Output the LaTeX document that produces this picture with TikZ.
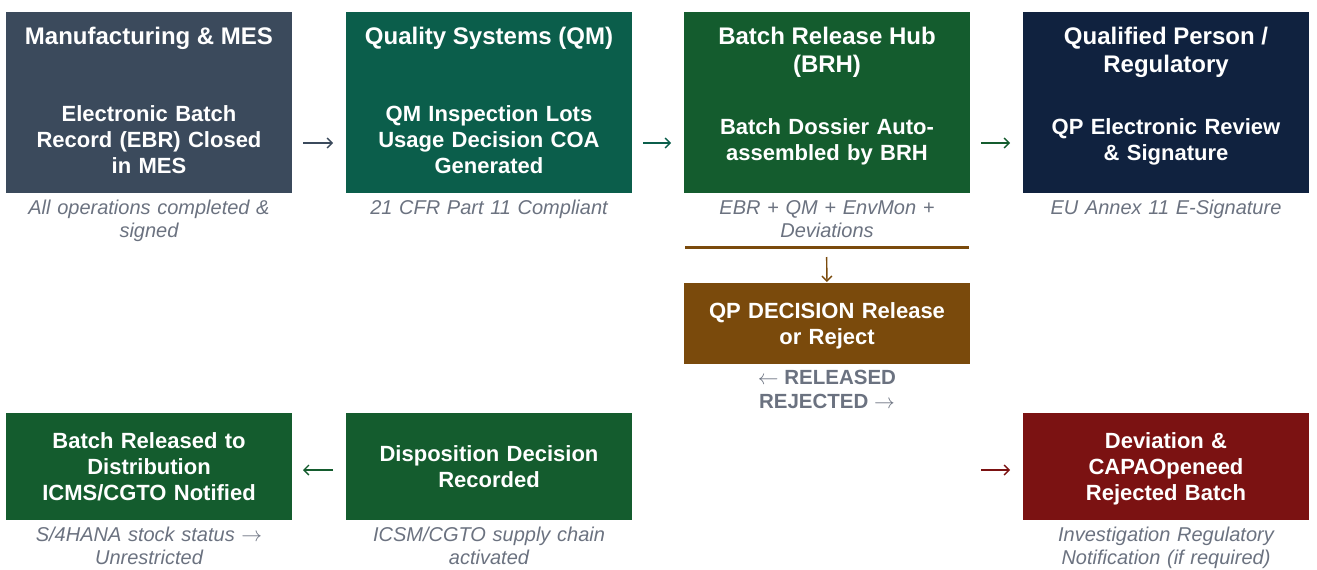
\documentclass[tikz,border=0pt]{standalone}
\usepackage{fontspec}
\setmainfont{Liberation Sans}
\usetikzlibrary{arrows.meta}

\definecolor{messlate}{HTML}{3B4A5C}
\definecolor{qmteal}{HTML}{0B5E4B}
\definecolor{hubgreen}{HTML}{145C2E}
\definecolor{qpnavy}{HTML}{10223F}
\definecolor{qpbrown}{HTML}{7A4A0C}
\definecolor{rejred}{HTML}{7B1212}
\definecolor{notegrey}{HTML}{6B7280}

\newcommand\hdrfont{\fontsize{24}{28}\selectfont\bfseries}
\newcommand\boxfont{\fontsize{22}{26}\selectfont\bfseries}
\newcommand\notefont{\fontsize{20}{23}\selectfont\itshape}
\newcommand\outfont{\fontsize{20.5}{24}\selectfont\bfseries}
% line box of a step: 26pt tall, baseline low in the box
\newcommand\linestrut{\rule[-5.4pt]{0pt}{26pt}}
% header text sits at the top of its band
\newcommand\hdrtext[1]{\parbox[t][74pt][t]{270pt}{\centering\vspace*{13pt}\strut#1}}

\begin{document}
\begin{tikzpicture}[x=1pt,y=-1pt,
  hdr/.style={rectangle, inner sep=0pt, outer sep=0pt, anchor=north west,
    minimum width=286pt, minimum height=74pt, text=white, font=\hdrfont},
  stepbox/.style={rectangle, inner sep=0pt, outer sep=0pt, anchor=north west,
    minimum width=286pt, minimum height=107pt, text width=270pt,
    align=center, text=white, font=\boxfont,
    execute at begin node=\linestrut, execute at end node=\linestrut},
  note/.style={anchor=north, inner sep=0pt, text width=284pt, align=center,
    text=notegrey, font=\notefont},
  flow/.style={line width=1.4pt, -{Straight Barb[length=5pt,width=10pt]},
    shorten <=11pt, shorten >=13pt},
]
\useasboundingbox (0,0) rectangle (1317,570);

% column headers
\node[hdr, fill=messlate] (h1) at (6,12)    {\hdrtext{Manufacturing \& MES}};
\node[hdr, fill=qmteal]   (h2) at (346,12)  {\hdrtext{Quality Systems (QM)}};
\node[hdr, fill=hubgreen] (h3) at (684,12)  {\hdrtext{Batch Release Hub\\(BRH)}};
\node[hdr, fill=qpnavy]   (h4) at (1023,12) {\hdrtext{Qualified Person /\\Regulatory}};

% top row steps
\node[stepbox, fill=messlate] (ebr) at (6,86)    {Electronic Batch\\Record (EBR) Closed\\in MES};
\node[stepbox, fill=qmteal]   (qm)  at (346,86)  {QM Inspection Lots\\Usage Decision COA\\Generated};
\node[stepbox, fill=hubgreen] (brh) at (684,86)  {Batch Dossier Auto-\\assembled by BRH};
\node[stepbox, fill=qpnavy]   (sig) at (1023,86) {QP Electronic Review\\\& Signature};

% notes under the top row
\node[note] (ebrn) at ([yshift=-7pt]ebr.south) {All operations completed \&\\signed};
\node[note] (qmn)  at ([yshift=-7pt]qm.south)  {21 CFR Part 11 Compliant};
\node[note] (brhn) at ([yshift=-7pt]brh.south) {EBR + QM + EnvMon +\\Deviations};
\node[note] (sign) at ([yshift=-7pt]sig.south) {EU Annex 11 E-Signature};

% dossier rule and QP decision
\coordinate (ruleL) at (685,247);
\coordinate (ruleR) at (969,247);
\coordinate (ruleM) at (826.5,247);
\draw[qpbrown, line width=3pt] (ruleL) -- (ruleR);
\node[stepbox, fill=qpbrown, minimum height=81pt] (qp) at (684,283) {QP DECISION Release\\or Reject};
\draw[flow, qpbrown, shorten <=10pt, shorten >=1pt] (ruleM) -- (qp.north);
\node[anchor=north, inner sep=0pt, align=center, text=notegrey, font=\outfont] (outc)
  at ([yshift=-6pt]qp.south) {$\leftarrow$ RELEASED\\REJECTED $\rightarrow$};

% bottom row
\node[stepbox, fill=hubgreen] (rel)  at (6,413)    {Batch Released to\\Distribution\\ICMS/CGTO Notified};
\node[stepbox, fill=hubgreen] (disp) at (346,413)  {Disposition Decision\\Recorded};
\node[stepbox, fill=rejred]   (dev)  at (1023,413) {Deviation \&\\CAPAOpeneed\\Rejected Batch};

\node[note] (reln)  at ([yshift=-7pt]rel.south)  {S/4HANA stock status $\rightarrow$\\Unrestricted};
\node[note] (dispn) at ([yshift=-7pt]disp.south) {ICSM/CGTO supply chain\\activated};
\node[note] (devn)  at ([yshift=-7pt]dev.south)  {Investigation Regulatory\\Notification (if required)};

% flow arrows
\draw[flow, messlate] ([yshift=-3.5pt]ebr.east) -- ([yshift=-3.5pt]qm.west);
\draw[flow, qmteal]   ([yshift=-3.5pt]qm.east)  -- ([yshift=-3.5pt]brh.west);
\draw[flow, hubgreen] ([yshift=-3.5pt]brh.east) -- ([yshift=-3.5pt]sig.west);
\draw[flow, hubgreen, shorten <=13pt, shorten >=11pt]
  ([yshift=-3.5pt]disp.west) -- ([yshift=-3.5pt]rel.east);
\coordinate (rejsrc) at (qp.east |- dev.west);
\draw[flow, rejred] ([yshift=-3.5pt]rejsrc) -- ([yshift=-3.5pt]dev.west);
\end{tikzpicture}
\end{document}
